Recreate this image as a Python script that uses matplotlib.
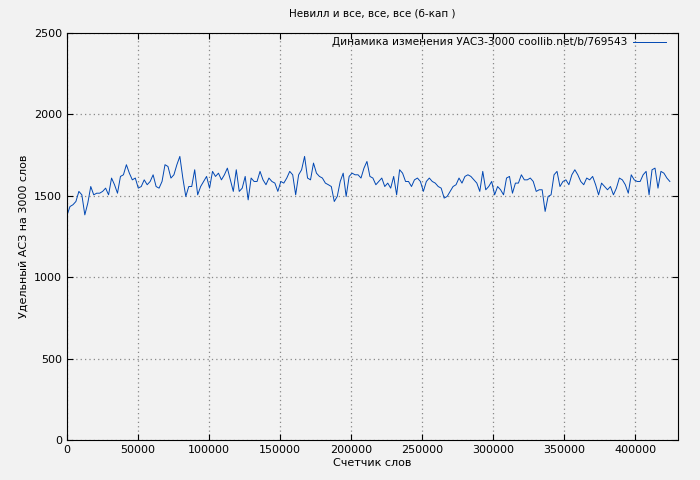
import numpy as np
import matplotlib.pyplot as plt

# specific AC3 per 3000 words, sampled every ~2100 words
values = [
    1380, 1434, 1445, 1465, 1527, 1506, 1383, 1455, 1557, 1506, 1516, 1516, 1527, 1547, 1506, 1609, 1568, 1516, 1619, 1629,
    1691, 1639, 1598, 1609, 1547, 1557, 1598, 1568, 1588, 1629, 1557, 1547, 1588, 1691, 1680, 1609, 1629, 1691, 1742, 1609,
    1496, 1557, 1557, 1660, 1506, 1557, 1588, 1619, 1547, 1650, 1619, 1639, 1598, 1629, 1670, 1598, 1527, 1660, 1527, 1547,
    1619, 1475, 1609, 1588, 1588, 1650, 1598, 1568, 1609, 1588,
    1578, 1527, 1588, 1578, 1609, 1650, 1629, 1506, 1629, 1660, 1742, 1609, 1598, 1701, 1639, 1619, 1609, 1578, 1568, 1557,
    1465, 1496, 1588, 1639, 1496, 1619, 1639, 1629, 1629, 1609, 1670, 1711, 1619, 1609, 1568, 1588, 1609, 1557, 1578, 1547,
    1619, 1506, 1660, 1639, 1588, 1588, 1557, 1598, 1609, 1588, 1527, 1588, 1609, 1588, 1578, 1557, 1547, 1486, 1496, 1527,
    1557, 1568, 1609, 1578, 1619, 1629, 1619, 1598,
    1578, 1527, 1650, 1537, 1557, 1588, 1506, 1557, 1537, 1506, 1609, 1619, 1516, 1578, 1578, 1629, 1598, 1598, 1609, 1588,
    1527, 1537, 1537, 1404, 1496, 1506, 1629, 1650, 1557, 1588, 1598, 1568, 1629, 1660, 1629, 1588, 1568, 1609, 1598, 1619,
    1568, 1506, 1578, 1557, 1537, 1557, 1506, 1547, 1609, 1598, 1568, 1516, 1629, 1598, 1588, 1588, 1629, 1650, 1506, 1660,
    1670, 1547, 1650, 1639, 1609, 1588,
]
words = np.arange(len(values)) * 2090

bg = '#f2f2f2'
fig = plt.figure(figsize=(7, 4.8), dpi=100, facecolor=bg)
ax = fig.add_axes([67 / 700, 40 / 480, 611 / 700, 407 / 480], facecolor=bg)

ax.plot(words, values, color='#0047b3', linewidth=0.7)

ax.set_xlim(0, 430000)
ax.set_ylim(0, 2500)
ax.set_xticks(np.arange(0, 430000, 50000))
ax.set_yticks(np.arange(0, 2501, 500))
ax.grid(True, color='#888888', linestyle=(0, (1, 2.5)), linewidth=0.9)
ax.tick_params(direction='in', top=True, right=True, labelsize=8, length=4)
for s in ax.spines.values():
    s.set_linewidth(0.8)

ax.set_title('Невилл и все, все, все (б-кап )', fontsize=7.5, pad=12)
ax.set_xlabel('Счетчик слов', fontsize=8, labelpad=2)
ax.set_ylabel('Удельный АСЗ на 3000 слов', fontsize=8)

ax.text(0.917, 0.977, 'Динамика изменения УАСЗ-3000 coollib.net/b/769543', transform=ax.transAxes,
        ha='right', va='center', fontsize=7.6)
ax.plot([0.927, 0.98], [0.977, 0.977], transform=ax.transAxes, color='#0047b3', linewidth=0.7)

fig.savefig('out.png', facecolor=bg)
